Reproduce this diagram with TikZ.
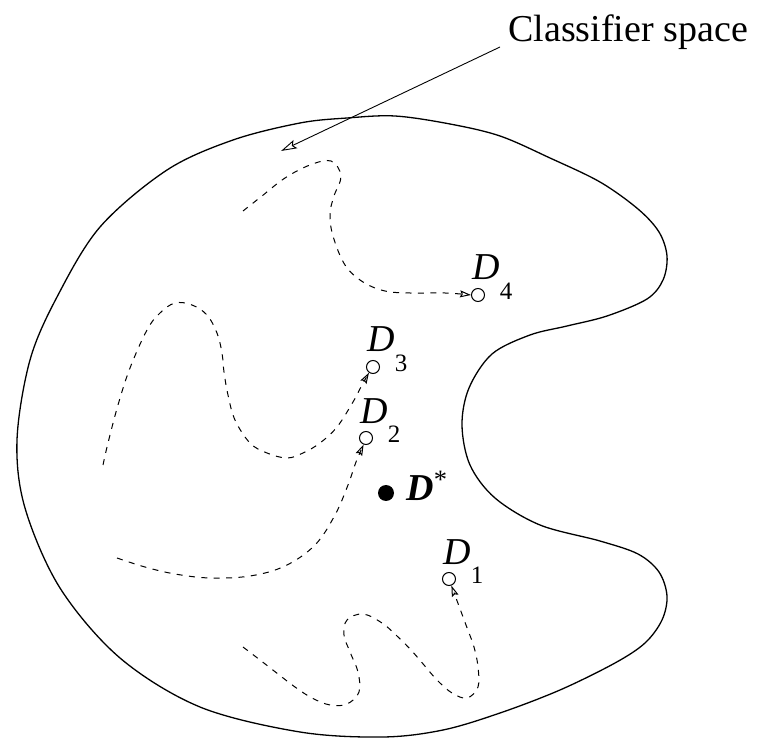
\documentclass[tikz,border=0pt]{standalone}
\usepackage{fontspec}
\setmainfont{Liberation Serif}
\usetikzlibrary{arrows.meta}
\newcommand{\dlab}[1]{\textit{D}\raisebox{-9.5pt}{\fontsize{12.5}{14}\selectfont #1}}
\begin{document}
\begin{tikzpicture}[x=0.5pt,y=-0.5pt,
  outline/.style={line width=0.65pt},
  path/.style={line width=0.5pt,dash pattern=on 3pt off 3.2pt},
  ptip/.style={-{Stealth[open,length=5.5pt,width=3.5pt,inset=0.8pt]}},
  pt/.style={circle,draw,line width=0.5pt,minimum size=6.5pt,inner sep=0pt},
  lab/.style={anchor=base west,inner sep=0pt,font=\fontsize{19}{22}\selectfont}]
\useasboundingbox (0,0) rectangle (762,738);
% outer region
\draw[outline] plot[smooth cycle,tension=0.55] coordinates {
 (347,118) (395,116) (450,124) (500,136) (550,158) (600,182) (638,209) (659,232)
 (667,256) (663,280) (647,299) (607,316) (567,326) (530,335) (492,354) (469,388)
 (462,425) (470,465) (495,498) (540,525) (600,541) (638,554) (659,572) (667,596)
 (662,620) (645,643) (615,663) (560,690) (500,713) (443,730) (383,737) (300,732)
 (200,707) (120,658) (60,588) (25,508) (17,440) (30,360) (57,297) (100,227)
 (167,170) (233,140) (300,123)};
% points
\node[pt] (d4) at (478,295) {};
\node[pt] (d3) at (373,367) {};
\node[pt] (d2) at (366,438) {};
\node[pt] (d1) at (449,579) {};
\node[circle,fill,minimum size=8pt,inner sep=0pt] (ds) at (386,493) {};
% labels
\node[lab] (l4) at ([shift={(-6,-15)}]d4.center) {\dlab{4}};
\node[lab] (l3) at ([shift={(-6,-15)}]d3.center) {\dlab{3}};
\node[lab] (l2) at ([shift={(-6,-15)}]d2.center) {\dlab{2}};
\node[lab] (l1) at ([shift={(-6,-15)}]d1.center) {\dlab{1}};
\node[lab] (lds) at (406,501) {\textbf{\textit{D}}\textsuperscript{*}};
% classifier space label
\node[lab] (cs) at (508,42) {Classifier space};
\coordinate (cstart) at (500,47);
\coordinate (ctip) at (281,151);
\draw[line width=0.45pt,-{Stealth[open,length=8pt,width=4.5pt,inset=1.5pt]}] (cstart) -- (ctip);
% paths
\draw[path,ptip] plot[smooth,tension=0.6] coordinates {
 (243,211) (262,196) (285,178) (310,165) (331,161) (341,176) (334,196) (330,214)
 (333,236) (345,265) (363,282) (385,291) (410,293) (445,293) (d4.west)};
\draw[path,ptip] plot[smooth,tension=0.6] coordinates {
 (103,465) (108,443) (118,405) (130,368) (147,330) (160,313) (175,303) (192,305)
 (207,315) (217,333) (222,353) (224,372) (228,395) (235,420) (250,443) (267,453)
 (287,458) (303,453) (320,443) (337,427) (353,402) (362,385) (d3.235)};
\draw[path,ptip] plot[smooth,tension=0.6] coordinates {
 (117,558) (145,567) (175,574) (210,578) (250,576) (285,566) (315,545) (335,515)
 (348,485) (356,462) (d2.250)};
\draw[path,ptip] plot[smooth,tension=0.6] coordinates {
 (243,647) (260,660) (278,674) (295,687) (312,698) (330,705) (347,704) (359,692)
 (358,672) (350,652) (344,635) (347,620) (363,614) (382,623) (397,636) (411,650)
 (424,665) (437,680) (452,693) (467,698) (478,687) (478,667) (474,647) (466,625)
 (d1.290)};
\end{tikzpicture}
\end{document}
